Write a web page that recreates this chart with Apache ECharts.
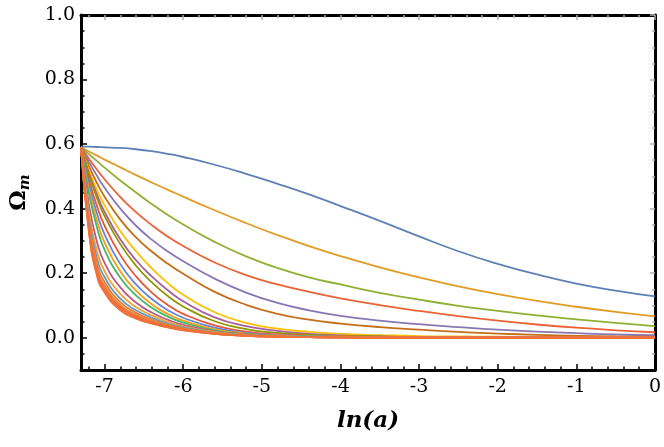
<!DOCTYPE html>
<html>
<head>
<meta charset="utf-8">
<script src="https://cdn.jsdelivr.net/npm/echarts@6/dist/echarts.min.js"></script>
<style>html,body{margin:0;padding:0;background:#fff;}#c{width:664px;height:447px;}</style>
</head>
<body>
<div id="c"></div>
<script>
// ---- data ----
const lnA = [-7.3, -7.2, -7.1, -7.0, -6.8, -6.6, -6.4, -6.2, -6.0, -5.6, -5.2, -4.8, -4.4, -4.0, -3.5, -3.0, -2.5, -2.0, -1.5, -1.0, -0.5, 0];
const c01 = [0.592,0.592,0.591,0.590,0.588,0.584,0.578,0.570,0.560,0.536,0.508,0.477,0.444,0.408,0.362,0.314,0.268,0.229,0.196,0.168,0.146,0.128];
const c02 = [0.590,0.577,0.565,0.552,0.528,0.504,0.481,0.459,0.437,0.395,0.355,0.318,0.284,0.253,0.218,0.187,0.159,0.135,0.114,0.096,0.080,0.066];
const c03 = [0.590,0.569,0.548,0.527,0.487,0.450,0.414,0.381,0.351,0.297,0.252,0.216,0.187,0.165,0.139,0.118,0.099,0.083,0.069,0.057,0.046,0.036];
const c04 = [0.590,0.555,0.522,0.491,0.436,0.389,0.349,0.314,0.284,0.233,0.194,0.165,0.142,0.122,0.101,0.083,0.067,0.053,0.041,0.031,0.023,0.017];
const c05 = [0.590,0.545,0.503,0.465,0.400,0.347,0.304,0.268,0.237,0.183,0.140,0.108,0.085,0.068,0.053,0.042,0.033,0.025,0.019,0.014,0.010,0.008];
const c06 = [0.590,0.532,0.481,0.437,0.366,0.311,0.267,0.230,0.198,0.142,0.102,0.074,0.056,0.044,0.033,0.025,0.018,0.013,0.009,0.006,0.004,0.003];
const c07 = [0.590,0.520,0.460,0.410,0.330,0.268,0.215,0.170,0.133,0.079,0.046,0.028,0.018,0.012,0.008,0.005,0.004,0.003,0.002,0.001,0.001,0.001];
const c08 = [0.590,0.510,0.445,0.390,0.305,0.240,0.190,0.148,0.113,0.063,0.036,0.021,0.012,0.007,0.004,0.002,0.001,0.001,0.000,0.000,0.000,0.000];
const c09 = [0.590,0.505,0.435,0.377,0.290,0.223,0.172,0.130,0.097,0.051,0.027,0.015,0.009,0.006,0.004,0.002,0.002,0.001,0.001,0.000,0.000,0.000];
const c10 = [0.590,0.490,0.410,0.347,0.256,0.190,0.140,0.102,0.074,0.038,0.019,0.010,0.006,0.004,0.002,0.001,0.001,0.001,0.000,0.000,0.000,0.000];
const c11 = [0.590,0.475,0.388,0.320,0.228,0.165,0.120,0.086,0.062,0.031,0.015,0.008,0.005,0.003,0.002,0.001,0.001,0.000,0.000,0.000,0.000,0.000];
const c12 = [0.590,0.460,0.365,0.295,0.205,0.146,0.104,0.074,0.053,0.026,0.013,0.007,0.004,0.003,0.002,0.001,0.001,0.000,0.000,0.000,0.000,0.000];
const c13 = [0.590,0.448,0.345,0.272,0.186,0.131,0.093,0.066,0.047,0.023,0.011,0.006,0.004,0.002,0.001,0.001,0.000,0.000,0.000,0.000,0.000,0.000];
const c14 = [0.590,0.413,0.300,0.232,0.156,0.109,0.078,0.056,0.040,0.020,0.010,0.005,0.003,0.002,0.001,0.001,0.000,0.000,0.000,0.000,0.000,0.000];
const c15 = [0.590,0.389,0.270,0.206,0.136,0.095,0.069,0.049,0.035,0.018,0.009,0.005,0.003,0.002,0.001,0.000,0.000,0.000,0.000,0.000,0.000,0.000];
const c16 = [0.590,0.372,0.249,0.188,0.121,0.085,0.062,0.044,0.032,0.016,0.008,0.004,0.003,0.001,0.001,0.000,0.000,0.000,0.000,0.000,0.000,0.000];
const c17 = [0.590,0.360,0.233,0.173,0.110,0.077,0.056,0.041,0.029,0.015,0.007,0.004,0.002,0.001,0.001,0.000,0.000,0.000,0.000,0.000,0.000,0.000];
const c18 = [0.590,0.350,0.221,0.162,0.102,0.071,0.052,0.038,0.027,0.014,0.007,0.004,0.002,0.001,0.001,0.000,0.000,0.000,0.000,0.000,0.000,0.000];
const c19 = [0.590,0.343,0.212,0.155,0.096,0.067,0.049,0.036,0.026,0.013,0.006,0.003,0.002,0.001,0.000,0.000,0.000,0.000,0.000,0.000,0.000,0.000];
const c20 = [0.590,0.337,0.204,0.148,0.090,0.063,0.047,0.034,0.024,0.012,0.006,0.003,0.002,0.001,0.000,0.000,0.000,0.000,0.000,0.000,0.000,0.000];
const c21 = [0.590,0.334,0.200,0.144,0.088,0.061,0.045,0.033,0.024,0.012,0.006,0.003,0.002,0.001,0.000,0.000,0.000,0.000,0.000,0.000,0.000,0.000];
const c22 = [0.590,0.330,0.195,0.140,0.085,0.059,0.044,0.032,0.023,0.012,0.006,0.003,0.002,0.001,0.000,0.000,0.000,0.000,0.000,0.000,0.000,0.000];
const curves = [c01,c02,c03,c04,c05,c06,c07,c08,c09,c10,c11,c12,c13,c14,c15,c16,c17,c18,c19,c20,c21,c22];

const xMajor = [-7, -6, -5, -4, -3, -2, -1, 0];
const xMinor = [-7.2,-6.8,-6.6,-6.4,-6.2,-5.8,-5.6,-5.4,-5.2,-4.8,-4.6,-4.4,-4.2,-3.8,-3.6,-3.4,-3.2,-2.8,-2.6,-2.4,-2.2,-1.8,-1.6,-1.4,-1.2,-0.8,-0.6,-0.4,-0.2];
const yMajor = [0, 0.2, 0.4, 0.6, 0.8, 1.0];
const yMinor = [-0.05,0.05,0.1,0.15,0.25,0.3,0.35,0.45,0.5,0.55,0.65,0.7,0.75,0.85,0.9,0.95];

// ---- styles ----
const colors = ['#5E81B5','#E19C24','#8FB032','#EB6235','#8778B3','#C56E1A','#FFBF00','#A5609D','#929600','#E95536',
                '#6685D9','#F89F13','#47B66D','#BC5B80','#F2A035','#5D9EC7','#EE7A3A','#F08A3A','#EF6E38','#F27B3E','#EE6B36','#F0713A'];

const chart = echarts.init(document.getElementById('c'), null, {renderer:'canvas'});
const XMIN = -7.3, XMAX = 0, YMIN = -0.1, YMAX = 1.0;
const frame = {show:true, onZero:false, lineStyle:{color:'#000', width:3}};
const noLine = {show:false, onZero:false};
const serif = 'DejaVu Serif';

function xAx(pos, values, len, color, line, labels) {
  return {
    type:'value', position:pos, min:XMIN, max:XMAX, gridIndex:0,
    axisLine: line ? frame : noLine,
    axisTick:{show:true, inside:true, length:len, customValues:values, lineStyle:{color:color, width:1.5}},
    axisLabel: labels ? {show:true, customValues:xMajor, margin:8, fontFamily:serif, fontSize:19, color:'#000',
      formatter: v => (Math.abs(v) < 1e-9 ? '0' : '-' + Math.abs(v))} : {show:false},
    splitLine:{show:false}
  };
}
function yAx(pos, values, len, color, line, labels) {
  return {
    type:'value', position:pos, min:YMIN, max:YMAX, gridIndex:0,
    axisLine: line ? frame : noLine,
    axisTick:{show:true, inside:true, length:len, customValues:values, lineStyle:{color:color, width:1.5}},
    axisLabel: labels ? {show:true, customValues:yMajor, margin:6, fontFamily:serif, fontSize:19, color:'#000',
      formatter: v => v.toFixed(1)} : {show:false},
    splitLine:{show:false}
  };
}

const xAxes = [
  xAx('bottom', xMajor, 6, '#000', true, true),
  xAx('bottom', xMinor, 3.5, '#000', false, false),
  xAx('top', xMajor, 5, '#b0b0b0', true, false),
  xAx('top', xMinor, 3, '#b0b0b0', false, false)
];
xAxes[0].name = 'ln(a)';
xAxes[0].nameLocation = 'middle';
xAxes[0].nameGap = 40;
xAxes[0].nameTextStyle = {fontFamily:serif, fontStyle:'italic', fontWeight:'bold', fontSize:23, color:'#000'};

const yAxes = [
  yAx('left', yMajor, 6, '#000', true, true),
  yAx('left', yMinor, 3.5, '#000', false, false),
  yAx('right', yMajor, 5, '#b0b0b0', true, false),
  yAx('right', yMinor, 3, '#b0b0b0', false, false)
];
yAxes[0].name = '{o|Ω}{s|m}';
yAxes[0].nameLocation = 'middle';
yAxes[0].nameGap = 48;
yAxes[0].nameRotate = 90;
yAxes[0].nameTextStyle = {
  rich:{
    o:{fontFamily:serif, fontWeight:'bold', fontSize:23, color:'#000'},
    s:{fontFamily:serif, fontWeight:'bold', fontStyle:'italic', fontSize:15, color:'#000', padding:[12,0,0,0]}
  }
};

const series = curves.map((arr, i) => ({
  type:'line',
  xAxisIndex:0, yAxisIndex:0,
  data: lnA.map((x, j) => [x, arr[j]]),
  showSymbol:false,
  smooth:0.5,
  clip:true,
  lineStyle:{color:colors[i], width:1.8},
  itemStyle:{color:colors[i]},
  z: 2 + i
}));

chart.setOption({
  animation:false,
  backgroundColor:'#fff',
  grid:{left:81, right:8, top:15, bottom:77, containLabel:false},
  xAxis:xAxes,
  yAxis:yAxes,
  series:series
});
</script>
</body>
</html>
